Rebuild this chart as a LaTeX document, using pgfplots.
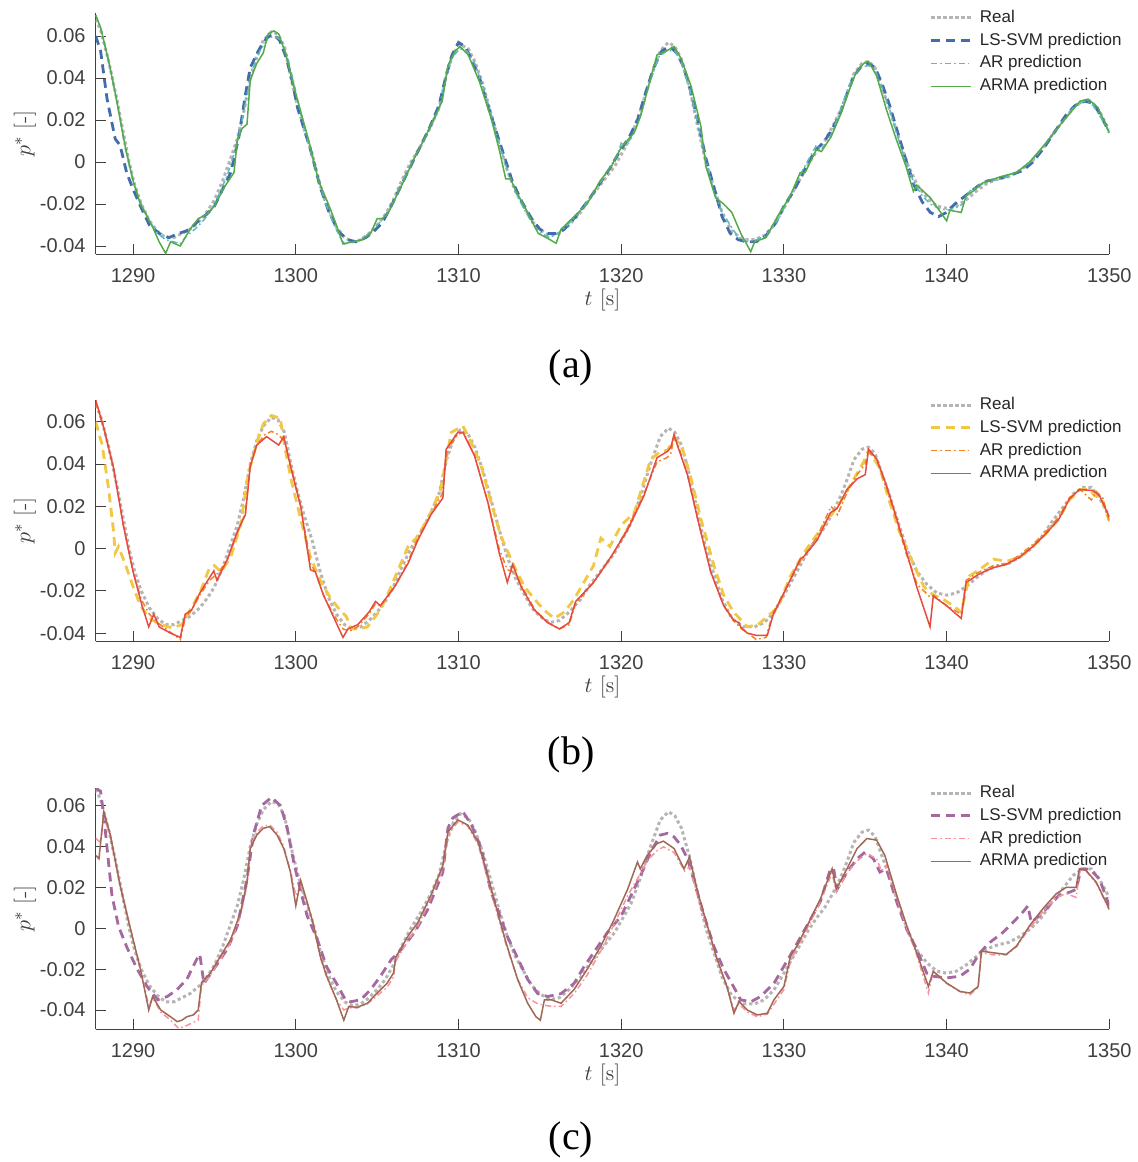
\documentclass[border=0pt]{standalone}
\usepackage{fontspec}
\usepackage{pgfplots}
\usepackage{pgfplotstable}
\pgfplotsset{compat=1.18}
\newfontfamily\arial{Liberation Sans}
\newfontfamily\timesfont{Liberation Serif}

\definecolor{axgray}{RGB}{64,64,64}
\definecolor{legtext}{RGB}{38,38,38}
\definecolor{realgray}{RGB}{185,180,180}
\definecolor{svmA}{RGB}{65,110,170}
\definecolor{arA}{RGB}{95,185,195}
\definecolor{armaA}{RGB}{85,170,75}
\definecolor{svmB}{RGB}{240,200,70}
\definecolor{arB}{RGB}{245,130,35}
\definecolor{armaB}{RGB}{230,75,65}
\definecolor{svmC}{RGB}{165,105,160}
\definecolor{arC}{RGB}{250,145,160}
\definecolor{armaC}{RGB}{160,105,85}

% measured signal (same in all three panels)
\pgfplotstableread{
t v
1287.7 0.068
1288.0 0.063
1288.5 0.048
1289.0 0.030
1289.4 0.014
1289.75 0.000
1290.1 -0.011
1290.5 -0.020
1291.0 -0.028
1291.5 -0.033
1292.0 -0.036
1292.5 -0.036
1293.0 -0.034
1293.5 -0.032
1294.1 -0.028
1294.6 -0.023
1295.0 -0.018
1295.5 -0.009
1296.0 0.002
1296.4 0.011
1296.8 0.024
1297.2 0.040
1297.6 0.051
1298.0 0.058
1298.5 0.062
1298.9 0.061
1299.3 0.055
1299.7 0.040
1300.1 0.027
1300.5 0.016
1301.0 0.004
1301.5 -0.011
1302.0 -0.023
1302.5 -0.031
1303.0 -0.036
1303.5 -0.038
1304.0 -0.037
1304.5 -0.034
1305.0 -0.030
1305.5 -0.025
1306.0 -0.018
1306.5 -0.009
1307.0 -0.001
1307.7 0.008
1308.3 0.017
1308.8 0.026
1309.3 0.043
1309.7 0.052
1310.1 0.056
1310.6 0.054
1311.0 0.048
1311.5 0.037
1312.0 0.023
1312.5 0.009
1313.0 -0.004
1313.5 -0.014
1314.0 -0.021
1314.5 -0.028
1315.0 -0.032
1315.6 -0.035
1316.2 -0.034
1316.8 -0.030
1317.5 -0.024
1318.0 -0.018
1318.5 -0.013
1319.0 -0.008
1319.6 -0.002
1320.1 0.005
1320.6 0.012
1321.2 0.025
1321.8 0.040
1322.4 0.053
1322.9 0.057
1323.3 0.055
1323.7 0.049
1324.2 0.035
1324.7 0.017
1325.2 0.000
1325.7 -0.012
1326.2 -0.024
1326.8 -0.033
1327.5 -0.037
1328.2 -0.037
1328.8 -0.035
1329.4 -0.030
1330.0 -0.022
1330.5 -0.015
1331.0 -0.008
1331.5 -0.001
1332.0 0.005
1332.5 0.010
1333.0 0.017
1333.5 0.025
1333.9 0.033
1334.3 0.042
1334.8 0.047
1335.2 0.048
1335.6 0.045
1336.0 0.036
1336.5 0.025
1337.0 0.013
1337.6 -0.001
1338.2 -0.011
1338.8 -0.017
1339.4 -0.021
1340.0 -0.022
1340.6 -0.021
1341.2 -0.018
1341.8 -0.014
1342.5 -0.010
1343.2 -0.008
1343.8 -0.007
1344.5 -0.004
1345.2 0.000
1345.8 0.005
1346.5 0.013
1347.2 0.020
1347.8 0.026
1348.4 0.029
1348.9 0.029
1349.4 0.024
1349.8 0.018
1350.0 0.015
}\realdata

% ---------- panel (a)
\pgfplotstableread{
t v
1287.7 0.060
1288.0 0.053
1288.4 0.030
1288.9 0.011
1289.2 0.008
1289.6 -0.005
1290.0 -0.013
1290.45 -0.021
1291.0 -0.030
1291.6 -0.034
1292.2 -0.036
1292.8 -0.034
1293.2 -0.033
1293.5 -0.032
1294.0 -0.028
1294.5 -0.025
1295.0 -0.021
1295.5 -0.013
1296.0 -0.005
1296.5 0.012
1296.9 0.032
1297.2 0.045
1297.7 0.053
1298.2 0.059
1298.6 0.061
1299.0 0.058
1299.4 0.050
1299.8 0.038
1300.1 0.026
1300.5 0.016
1300.9 0.006
1301.5 -0.012
1302.0 -0.023
1302.6 -0.033
1303.2 -0.037
1303.7 -0.038
1304.3 -0.036
1304.8 -0.033
1305.3 -0.029
1305.8 -0.022
1306.3 -0.014
1306.8 -0.006
1307.5 0.005
1308.2 0.016
1308.8 0.027
1309.2 0.040
1309.6 0.051
1310.0 0.057
1310.4 0.055
1310.8 0.049
1311.3 0.040
1311.8 0.027
1312.3 0.015
1312.8 0.003
1313.3 -0.009
1313.9 -0.019
1314.5 -0.027
1315.0 -0.032
1315.5 -0.034
1316.0 -0.034
1316.5 -0.032
1317.2 -0.026
1318.0 -0.018
1318.7 -0.010
1319.3 -0.003
1319.9 0.005
1320.5 0.012
1321.0 0.020
1321.5 0.033
1322.0 0.045
1322.5 0.053
1323.0 0.055
1323.4 0.052
1323.8 0.046
1324.2 0.036
1324.7 0.020
1325.2 0.002
1325.7 -0.012
1326.2 -0.026
1326.7 -0.034
1327.2 -0.037
1327.7 -0.038
1328.3 -0.038
1328.9 -0.035
1329.5 -0.029
1330.0 -0.021
1330.5 -0.015
1331.0 -0.008
1331.5 0.000
1332.0 0.006
1332.5 0.010
1333.0 0.016
1333.5 0.024
1333.9 0.033
1334.3 0.041
1334.8 0.046
1335.2 0.047
1335.6 0.045
1336.0 0.038
1336.5 0.027
1337.0 0.014
1337.5 0.001
1338.0 -0.011
1338.5 -0.019
1339.0 -0.024
1339.5 -0.026
1340.0 -0.024
1340.5 -0.020
1341.0 -0.017
1341.5 -0.014
1342.0 -0.011
1342.5 -0.009
1343.2 -0.008
1344.0 -0.006
1344.7 -0.004
1345.3 0.000
1346.0 0.007
1346.7 0.015
1347.3 0.022
1347.9 0.027
1348.5 0.029
1349.0 0.028
1349.5 0.022
1350.0 0.014
}\svmAdata

\pgfplotstableread{
t v
1287.7 0.070
1288.0 0.064
1288.5 0.048
1289.0 0.029
1289.5 0.007
1290.0 -0.009
1290.5 -0.020
1291.0 -0.028
1291.5 -0.034
1292.0 -0.037
1292.5 -0.038
1292.9 -0.039
1293.3 -0.035
1293.8 -0.032
1294.3 -0.028
1294.8 -0.023
1295.3 -0.015
1295.8 -0.006
1296.2 0.004
1296.6 0.016
1297.0 0.032
1297.4 0.045
1297.8 0.053
1298.3 0.059
1298.7 0.060
1299.1 0.058
1299.5 0.050
1299.9 0.037
1300.3 0.023
1300.8 0.008
1301.3 -0.006
1301.8 -0.019
1302.3 -0.029
1302.8 -0.037
1303.0 -0.039
1303.5 -0.038
1304.0 -0.037
1304.5 -0.034
1305.0 -0.030
1305.5 -0.026
1306.0 -0.019
1306.5 -0.010
1307.0 -0.002
1307.7 0.008
1308.3 0.017
1308.8 0.025
1309.2 0.040
1309.6 0.050
1310.1 0.054
1310.5 0.053
1311.0 0.047
1311.5 0.036
1312.0 0.023
1312.5 0.009
1313.0 -0.004
1313.5 -0.014
1314.0 -0.022
1314.6 -0.030
1315.1 -0.034
1315.6 -0.036
1316.1 -0.034
1316.7 -0.030
1317.3 -0.025
1318.0 -0.018
1318.6 -0.011
1319.2 -0.004
1319.8 0.004
1320.0 0.009
1320.3 0.008
1320.8 0.014
1321.3 0.025
1321.8 0.039
1322.3 0.050
1322.8 0.053
1323.3 0.053
1323.7 0.047
1324.2 0.035
1324.7 0.019
1325.2 0.001
1325.7 -0.014
1326.2 -0.024
1326.7 -0.030
1327.2 -0.036
1327.7 -0.038
1328.3 -0.037
1328.9 -0.035
1329.5 -0.029
1330.0 -0.022
1330.5 -0.014
1331.0 -0.006
1331.5 0.001
1332.0 0.008
1332.3 0.006
1332.8 0.011
1333.3 0.021
1333.8 0.032
1334.2 0.040
1334.7 0.045
1335.2 0.046
1335.6 0.044
1336.0 0.036
1336.5 0.025
1337.0 0.012
1337.5 0.000
1338.0 -0.010
1338.5 -0.016
1339.0 -0.020
1339.5 -0.022
1340.0 -0.023
1340.5 -0.022
1341.0 -0.020
1341.4 -0.014
1342.0 -0.011
1342.7 -0.009
1343.4 -0.008
1344.0 -0.006
1344.7 -0.003
1345.3 0.001
1346.0 0.008
1346.7 0.015
1347.3 0.021
1347.9 0.027
1348.5 0.029
1349.0 0.027
1349.5 0.021
1350.0 0.014
}\arAdata

\pgfplotstableread{
t v
1287.7 0.070
1288.0 0.064
1288.5 0.048
1289.0 0.029
1289.5 0.008
1290.0 -0.009
1290.45 -0.020
1290.8 -0.025
1291.2 -0.031
1291.6 -0.038
1292.0 -0.0435
1292.3 -0.038
1292.9 -0.040
1293.5 -0.032
1294.0 -0.027
1294.5 -0.025
1295.0 -0.021
1295.6 -0.012
1296.2 -0.005
1296.4 0.010
1296.7 0.016
1297.0 0.018
1297.2 0.039
1297.6 0.047
1298.0 0.052
1298.3 0.061
1298.65 0.0625
1298.95 0.061
1299.4 0.051
1299.8 0.038
1300.2 0.027
1300.8 0.010
1301.4 -0.009
1302.0 -0.020
1302.4 -0.028
1302.9 -0.039
1303.5 -0.038
1304.1 -0.037
1304.6 -0.034
1305.0 -0.027
1305.3 -0.027
1305.7 -0.024
1306.2 -0.016
1306.7 -0.008
1307.3 0.002
1307.9 0.011
1308.5 0.021
1309.0 0.029
1309.35 0.046
1309.8 0.053
1310.1 0.055
1310.6 0.051
1311.3 0.038
1312.0 0.021
1312.5 0.006
1312.9 -0.008
1313.2 -0.008
1313.6 -0.015
1314.05 -0.021
1314.5 -0.028
1314.9 -0.034
1315.4 -0.036
1316.0 -0.0387
1316.3 -0.032
1317.1 -0.026
1317.9 -0.020
1318.7 -0.009
1319.4 -0.002
1320.0 0.007
1320.8 0.014
1321.2 0.022
1321.6 0.034
1322.2 0.051
1322.8 0.053
1323.25 0.055
1323.7 0.049
1324.3 0.036
1324.9 0.017
1325.2 -0.002
1325.8 -0.017
1326.3 -0.020
1326.8 -0.024
1327.35 -0.034
1327.96 -0.0427
1328.2 -0.038
1328.9 -0.036
1329.6 -0.026
1330.4 -0.016
1331.0 -0.005
1331.3 -0.005
1332.0 0.006
1332.3 0.005
1332.9 0.012
1333.5 0.023
1334.1 0.036
1334.4 0.042
1334.9 0.047
1335.2 0.048
1335.7 0.041
1336.3 0.025
1336.9 0.011
1337.5 -0.002
1337.96 -0.014
1338.16 -0.011
1339.0 -0.017
1340.0 -0.028
1340.2 -0.023
1340.9 -0.024
1341.2 -0.016
1341.6 -0.014
1342.2 -0.010
1343.3 -0.007
1344.3 -0.005
1345.1 0.000
1346.1 0.009
1346.9 0.017
1347.55 0.023
1348.2 0.029
1348.7 0.030
1349.3 0.026
1350.0 0.014
}\armaAdata

% ---------- panel (b)
\pgfplotstableread{
t v
1287.7 0.060
1288.1 0.049
1288.5 0.028
1288.8 0.008
1288.9 -0.002
1289.1 0.001
1289.5 -0.007
1290.0 -0.018
1290.45 -0.027
1291.0 -0.033
1291.7 -0.036
1292.4 -0.0375
1293.0 -0.036
1293.5 -0.029
1294.1 -0.021
1294.7 -0.009
1295.0 -0.008
1295.4 -0.011
1296.0 -0.004
1296.6 0.011
1297.1 0.036
1297.6 0.050
1298.0 0.059
1298.5 0.063
1299.05 0.0616
1299.3 0.049
1299.7 0.033
1300.3 0.014
1300.9 -0.004
1301.5 -0.015
1302.1 -0.023
1302.7 -0.029
1303.1 -0.032
1303.4 -0.038
1303.9 -0.038
1304.4 -0.037
1305.2 -0.029
1305.8 -0.019
1306.4 -0.008
1306.9 0.001
1307.4 0.005
1307.8 0.010
1308.3 0.017
1308.9 0.028
1309.55 0.055
1310.27 0.058
1310.8 0.050
1311.4 0.039
1312.0 0.022
1312.6 0.006
1313.4 -0.008
1314.05 -0.018
1314.9 -0.026
1315.4 -0.030
1315.9 -0.033
1316.5 -0.030
1317.1 -0.024
1317.7 -0.016
1318.3 -0.008
1318.75 0.005
1319.3 0.001
1320.0 0.011
1320.8 0.017
1321.2 0.027
1321.8 0.042
1322.4 0.046
1322.84 0.0465
1323.25 0.052
1323.7 0.049
1324.3 0.033
1324.9 0.014
1325.7 -0.008
1326.3 -0.022
1326.9 -0.030
1327.4 -0.034
1327.75 -0.037
1328.4 -0.036
1329.0 -0.032
1329.6 -0.028
1330.4 -0.013
1331.4 0.000
1332.45 0.011
1333.47 0.022
1334.3 0.033
1334.9 0.041
1335.2 0.0465
1335.9 0.038
1336.5 0.022
1337.1 0.008
1338.0 -0.008
1338.6 -0.018
1339.2 -0.022
1339.8 -0.024
1340.4 -0.027
1340.9 -0.030
1341.4 -0.013
1342.0 -0.010
1342.9 -0.005
1343.7 -0.006
1344.5 -0.004
1345.3 0.001
1346.1 0.007
1346.9 0.014
1347.55 0.023
1348.2 0.028
1348.8 0.028
1349.1 0.025
1349.5 0.024
1350.0 0.013
}\svmBdata

\pgfplotstableread{
t v
1287.7 0.069
1288.2 0.057
1288.8 0.038
1289.4 0.011
1290.0 -0.011
1290.5 -0.024
1291.0 -0.031
1291.5 -0.035
1292.2 -0.039
1292.9 -0.043
1293.2 -0.033
1293.6 -0.029
1294.1 -0.022
1294.7 -0.015
1295.3 -0.011
1295.8 -0.005
1296.4 0.007
1296.9 0.017
1297.2 0.039
1297.6 0.049
1298.1 0.054
1298.5 0.0555
1298.9 0.054
1299.3 0.051
1299.7 0.039
1300.3 0.020
1300.9 -0.007
1301.2 -0.011
1301.7 -0.022
1302.3 -0.031
1302.9 -0.038
1303.3 -0.039
1303.8 -0.037
1304.5 -0.031
1304.9 -0.026
1305.2 -0.027
1306.1 -0.018
1306.9 -0.006
1307.5 0.005
1308.3 0.016
1309.0 0.026
1309.3 0.046
1309.9 0.054
1310.3 0.055
1311.0 0.044
1311.8 0.022
1312.5 0.000
1313.0 -0.010
1313.4 -0.011
1313.9 -0.018
1314.7 -0.029
1315.5 -0.035
1316.2 -0.038
1316.8 -0.036
1317.2 -0.026
1318.3 -0.016
1319.4 -0.004
1320.4 0.010
1321.4 0.026
1322.2 0.041
1322.8 0.043
1323.05 0.045
1323.25 0.053
1323.5 0.049
1324.1 0.034
1324.7 0.014
1325.5 -0.011
1326.3 -0.027
1326.9 -0.034
1327.4 -0.038
1327.8 -0.040
1328.3 -0.043
1328.9 -0.042
1329.3 -0.031
1330.0 -0.021
1331.0 -0.006
1332.0 0.005
1332.9 0.020
1333.3 0.016
1333.9 0.027
1334.5 0.035
1335.0 0.040
1335.2 0.046
1335.7 0.042
1336.3 0.029
1336.9 0.014
1337.5 -0.002
1338.2 -0.017
1339.0 -0.023
1339.2 -0.022
1340.0 -0.027
1340.9 -0.031
1341.2 -0.015
1342.0 -0.011
1342.9 -0.008
1343.7 -0.007
1344.5 -0.003
1345.3 0.002
1346.1 0.008
1346.9 0.015
1347.55 0.024
1348.2 0.028
1348.9 0.023
1349.2 0.027
1349.6 0.024
1350.0 0.013
}\arBdata

\pgfplotstableread{
t v
1287.7 0.0703
1288.2 0.057
1288.8 0.038
1289.4 0.011
1290.0 -0.011
1290.55 -0.027
1290.96 -0.037
1291.27 -0.031
1291.6 -0.037
1292.3 -0.040
1292.9 -0.042
1293.2 -0.031
1293.6 -0.029
1294.1 -0.021
1294.96 -0.0105
1295.15 -0.015
1295.8 -0.005
1296.4 0.008
1296.9 0.016
1297.2 0.039
1297.6 0.049
1298.2 0.053
1298.95 0.049
1299.26 0.053
1299.67 0.039
1300.3 0.020
1300.9 -0.010
1301.2 -0.011
1301.7 -0.022
1302.3 -0.032
1302.9 -0.042
1303.2 -0.038
1303.8 -0.036
1304.5 -0.030
1304.9 -0.025
1305.2 -0.027
1306.07 -0.018
1306.9 -0.007
1307.5 0.004
1308.3 0.016
1309.04 0.024
1309.24 0.047
1309.96 0.055
1310.27 0.055
1310.98 0.044
1311.8 0.022
1312.5 -0.002
1313.0 -0.016
1313.33 -0.0075
1313.85 -0.018
1314.66 -0.029
1315.48 -0.035
1316.2 -0.038
1316.8 -0.035
1317.2 -0.025
1318.3 -0.016
1319.4 -0.0035
1320.4 0.009
1321.4 0.025
1322.2 0.043
1322.84 0.046
1323.05 0.048
1323.25 0.054
1323.45 0.049
1324.07 0.035
1324.7 0.014
1325.5 -0.011
1326.3 -0.027
1326.93 -0.034
1327.24 -0.035
1327.34 -0.037
1327.75 -0.040
1328.3 -0.041
1328.98 -0.041
1329.35 -0.031
1330.0 -0.021
1331.0 -0.005
1331.2 -0.004
1332.04 0.004
1332.86 0.017
1333.27 0.019
1333.88 0.028
1334.5 0.033
1335.0 0.035
1335.2 0.047
1335.7 0.0425
1336.3 0.030
1336.94 0.014
1337.55 -0.002
1338.16 -0.018
1338.98 -0.037
1339.18 -0.0225
1340.0 -0.027
1340.9 -0.033
1341.2 -0.016
1342.0 -0.012
1342.86 -0.009
1343.67 -0.0075
1344.5 -0.004
1345.3 0.001
1346.1 0.007
1346.9 0.014
1347.55 0.0235
1348.16 0.028
1348.98 0.0275
1349.4 0.025
1350.0 0.015
}\armaBdata

% ---------- panel (c)
\pgfplotstableread{
t v
1287.7 0.0686
1288.0 0.067
1288.2 0.055
1288.4 0.039
1288.7 0.016
1289.1 0.001
1289.6 -0.009
1290.25 -0.020
1290.86 -0.0285
1291.5 -0.035
1292.1 -0.0334
1292.7 -0.030
1293.3 -0.025
1293.9 -0.0153
1294.1 -0.0128
1294.35 -0.027
1294.96 -0.020
1295.8 -0.010
1296.4 0.001
1297.0 0.024
1297.4 0.046
1297.9 0.060
1298.5 0.064
1299.06 0.060
1299.47 0.049
1299.88 0.032
1300.3 0.018
1300.7 0.006
1301.3 -0.005
1301.9 -0.019
1302.5 -0.027
1303.05 -0.035
1303.36 -0.036
1303.98 -0.035
1304.6 -0.030
1305.2 -0.0235
1305.87 -0.0153
1306.48 -0.0104
1307.3 -0.002
1308.1 0.009
1309.04 0.0275
1309.35 0.049
1309.65 0.054
1310.27 0.057
1310.8 0.0505
1311.4 0.039
1312.0 0.0176
1312.4 0.0094
1313.0 -0.004
1313.6 -0.014
1314.25 -0.025
1314.87 -0.032
1315.48 -0.0334
1316.3 -0.032
1317.1 -0.027
1317.7 -0.019
1318.3 -0.012
1319.16 -0.002
1320.0 0.006
1320.6 0.016
1321.2 0.026
1321.8 0.037
1322.4 0.0456
1322.84 0.0464
1323.25 0.0447
1323.66 0.0406
1324.07 0.034
1324.5 0.0225
1325.1 0.006
1325.7 -0.009
1326.3 -0.020
1326.9 -0.0285
1327.34 -0.035
1327.96 -0.036
1328.57 -0.0334
1329.4 -0.0268
1330.0 -0.0186
1330.6 -0.0104
1331.4 0.001
1332.24 0.013
1332.86 0.029
1333.06 0.029
1333.27 0.019
1333.88 0.0275
1334.5 0.034
1335.0 0.0373
1335.5 0.034
1335.9 0.0275
1336.3 0.029
1336.94 0.0127
1337.55 -0.0005
1338.16 -0.0104
1338.78 -0.022
1339.18 -0.0235
1340.0 -0.0243
1340.82 -0.0235
1341.43 -0.020
1342.04 -0.012
1342.65 -0.007
1343.47 -0.002
1344.1 0.003
1344.7 0.008
1345.0 0.011
1345.2 0.003
1345.7 0.006
1346.3 0.011
1346.9 0.016
1347.55 0.0176
1347.96 0.019
1348.27 0.029
1348.8 0.029
1349.4 0.024
1350.0 0.011
}\svmCdata

\pgfplotstableread{
t v
1287.7 0.044
1288.0 0.042
1288.2 0.055
1288.6 0.045
1289.2 0.021
1289.84 0.000
1290.45 -0.020
1290.96 -0.038
1291.2 -0.034
1291.7 -0.041
1292.3 -0.045
1292.8 -0.049
1293.2 -0.048
1293.7 -0.046
1294.0 -0.045
1294.2 -0.028
1294.75 -0.023
1295.37 -0.015
1296.0 -0.007
1296.6 0.006
1297.0 0.021
1297.2 0.040
1297.6 0.047
1298.0 0.050
1298.4 0.0505
1298.85 0.047
1299.26 0.040
1299.67 0.028
1300.0 0.016
1300.3 0.021
1300.7 0.012
1301.1 0.001
1301.5 -0.014
1301.9 -0.024
1302.5 -0.035
1302.95 -0.040
1303.25 -0.039
1303.77 -0.039
1304.4 -0.037
1305.0 -0.033
1305.6 -0.029
1306.0 -0.024
1306.15 -0.016
1306.9 -0.006
1307.5 0.001
1308.3 0.015
1309.04 0.029
1309.35 0.046
1309.96 0.052
1310.57 0.050
1311.2 0.041
1311.8 0.024
1312.2 0.012
1312.92 -0.008
1313.64 -0.025
1314.25 -0.034
1314.87 -0.037
1315.5 -0.038
1316.3 -0.0383
1317.1 -0.032
1317.9 -0.023
1318.75 -0.011
1319.57 0.002
1320.4 0.016
1321.2 0.027
1321.6 0.033
1322.2 0.038
1322.6 0.0398
1323.25 0.037
1323.9 0.028
1324.2 0.030
1324.7 0.016
1325.3 0.000
1325.9 -0.016
1326.5 -0.029
1326.93 -0.040
1327.24 -0.037
1327.75 -0.041
1328.36 -0.0433
1328.98 -0.042
1329.4 -0.037
1330.0 -0.030
1330.4 -0.016
1330.8 -0.010
1331.43 0.000
1332.24 0.013
1332.96 0.027
1333.22 0.0176
1333.88 0.027
1334.5 0.033
1335.1 0.0365
1335.7 0.034
1336.0 0.028
1336.3 0.031
1336.94 0.015
1337.55 0.000
1338.16 -0.013
1338.88 -0.0317
1339.18 -0.021
1340.0 -0.027
1340.82 -0.031
1341.43 -0.0326
1341.94 -0.029
1342.14 -0.012
1342.86 -0.013
1343.67 -0.013
1344.3 -0.009
1345.1 0.000
1345.9 0.008
1346.73 0.015
1347.35 0.017
1347.96 0.0151
1348.2 0.029
1348.57 0.028
1349.2 0.022
1350.0 0.009
}\arCdata

\pgfplotstableread{
t v
1287.7 0.0357
1287.9 0.034
1288.2 0.057
1288.6 0.0456
1289.2 0.021
1289.84 -0.0005
1290.45 -0.020
1290.96 -0.040
1291.2 -0.0334
1291.7 -0.040
1292.3 -0.0433
1292.7 -0.0457
1293.0 -0.045
1293.3 -0.0433
1293.7 -0.0424
1294.0 -0.040
1294.2 -0.0268
1294.75 -0.0219
1295.37 -0.0137
1296.0 -0.0054
1296.6 0.0077
1297.0 0.0225
1297.2 0.039
1297.6 0.0456
1298.0 0.0489
1298.4 0.0497
1298.85 0.0456
1299.26 0.039
1299.67 0.0275
1300.0 0.011
1300.3 0.0234
1300.7 0.0127
1301.1 0.0012
1301.5 -0.0137
1301.9 -0.0235
1302.5 -0.035
1302.95 -0.045
1303.25 -0.0383
1303.77 -0.0387
1304.4 -0.0367
1305.0 -0.0317
1305.6 -0.027
1306.0 -0.022
1306.15 -0.014
1306.9 -0.0038
1307.5 0.0028
1308.3 0.016
1309.04 0.0308
1309.35 0.0472
1309.96 0.053
1310.57 0.0505
1311.2 0.0423
1311.8 0.0258
1312.2 0.0135
1312.92 -0.007
1313.64 -0.0252
1314.25 -0.0367
1314.76 -0.0433
1315.03 -0.045
1315.28 -0.035
1315.7 -0.035
1316.3 -0.0367
1317.1 -0.030
1317.9 -0.0202
1318.75 -0.0087
1319.57 0.0044
1320.4 0.0192
1321.0 0.0324
1321.17 0.029
1321.6 0.0357
1322.2 0.0414
1322.6 0.0426
1323.25 0.039
1323.86 0.029
1324.2 0.0349
1324.7 0.0176
1325.3 0.0012
1325.9 -0.0153
1326.5 -0.0285
1326.93 -0.0416
1327.24 -0.0358
1327.75 -0.040
1328.36 -0.0424
1328.98 -0.0416
1329.39 -0.035
1330.0 -0.0285
1330.4 -0.0137
1330.8 -0.0087
1331.43 0.0012
1332.24 0.0143
1332.96 0.0291
1333.22 0.0192
1333.88 0.0291
1334.5 0.039
1335.1 0.0439
1335.7 0.0431
1336.2 0.0357
1336.94 0.016
1337.55 0.0012
1338.16 -0.012
1338.88 -0.0285
1339.18 -0.0211
1340.0 -0.0268
1340.82 -0.0309
1341.43 -0.0317
1341.94 -0.0285
1342.14 -0.0112
1342.86 -0.012
1343.67 -0.0128
1344.3 -0.0087
1345.1 0.0012
1345.9 0.0094
1346.73 0.0168
1347.35 0.020
1347.96 0.020
1348.16 0.0291
1348.57 0.0283
1349.2 0.0225
1350.0 0.0094
}\armaCdata

\pgfplotsset{
  panel/.style={
    width=506.8pt, height=120.5pt, scale only axis,
    xmin=1287.7, xmax=1350,
    axis x line*=bottom, axis y line*=left,
    axis line style={axgray, line width=0.5pt},
    every tick/.style={axgray, line width=0.5pt},
    tick align=inside, major tick length=5pt,
    scaled x ticks=false, scaled y ticks=false,
    xtick={1290,1300,1310,1320,1330,1340,1350},
    xticklabels={1290,1300,1310,1320,1330,1340,1350},
    ytick={-0.04,-0.02,0,0.02,0.04,0.06},
    yticklabels={-0.04,-0.02,0,0.02,0.04,0.06},
    ticklabel style={font=\arial\fontsize{10}{12}\selectfont, text=axgray},
    xticklabel style={anchor=center, yshift=-11pt},
    yticklabel style={anchor=east, inner sep=0pt, xshift=-4.9pt},
    xlabel={$t$ [s]}, ylabel={$p^*$ [-]},
    label style={font=\fontsize{11}{13}\selectfont, text=axgray},
    xlabel style={at={(axis description cs:0.5,-0.191)}, anchor=center},
    ylabel style={at={(axis description cs:-0.0698,0.5)}, anchor=center},
    legend style={at={(axis description cs:1.0125,1.015)}, anchor=north east,
      draw=none, fill=none, inner sep=0pt, row sep=3.2pt, column sep=3.5pt,
      font=\arial\fontsize{8.5}{10}\selectfont,
      nodes={inner sep=0pt, text height=6.3pt, text depth=1.9pt}},
    legend cell align=left,
    legend image code/.code={\draw[#1] (0pt,0pt) -- (20pt,0pt);},
  },
  realst/.style={realgray, line width=1.5pt, dash pattern=on 1.6pt off 1.4pt},
  svmst/.style={line width=1.4pt, dash pattern=on 4.5pt off 2.8pt},
  arst/.style={line width=0.75pt, dash pattern=on 3pt off 1.5pt on 0.8pt off 1.5pt},
  armast/.style={line width=0.75pt},
}

\begin{document}
\begin{tikzpicture}
\useasboundingbox (0pt,0pt) rectangle (568.5pt,-581pt);

\begin{axis}[panel, at={(47.85pt,-127pt)}, anchor=south west,
  ymin=-0.0438, ymax=0.0710]
\addplot[realst] table[x=t, y=v] {\realdata};
\addlegendentry{\textcolor{legtext}{Real}}
\addplot[svmst, svmA] table[x=t, y=v] {\svmAdata};
\addlegendentry{\textcolor{legtext}{LS-SVM prediction}}
\addplot[arst, arA] table[x=t, y=v] {\arAdata};
\addlegendentry{\textcolor{legtext}{AR prediction}}
\addplot[armast, armaA] table[x=t, y=v] {\armaAdata};
\addlegendentry{\textcolor{legtext}{ARMA prediction}}
\end{axis}

\begin{axis}[panel, at={(47.85pt,-320.5pt)}, anchor=south west,
  ymin=-0.0437, ymax=0.0703]
\addplot[realst] table[x=t, y=v] {\realdata};
\addlegendentry{\textcolor{legtext}{Real}}
\addplot[svmst, svmB] table[x=t, y=v] {\svmBdata};
\addlegendentry{\textcolor{legtext}{LS-SVM prediction}}
\addplot[arst, arB] table[x=t, y=v] {\arBdata};
\addlegendentry{\textcolor{legtext}{AR prediction}}
\addplot[armast, armaB] table[x=t, y=v] {\armaBdata};
\addlegendentry{\textcolor{legtext}{ARMA prediction}}
\end{axis}

\begin{axis}[panel, at={(47.85pt,-514.5pt)}, anchor=south west,
  ymin=-0.0493, ymax=0.0686]
\addplot[realst] table[x=t, y=v] {\realdata};
\addlegendentry{\textcolor{legtext}{Real}}
\addplot[svmst, svmC] table[x=t, y=v] {\svmCdata};
\addlegendentry{\textcolor{legtext}{LS-SVM prediction}}
\addplot[arst, arC] table[x=t, y=v] {\arCdata};
\addlegendentry{\textcolor{legtext}{AR prediction}}
\addplot[armast, armaC] table[x=t, y=v] {\armaCdata};
\addlegendentry{\textcolor{legtext}{ARMA prediction}}
\end{axis}

\node[font=\timesfont\fontsize{20}{24}\selectfont] at (285.5pt,-184pt) {(a)};
\node[font=\timesfont\fontsize{20}{24}\selectfont] at (285.5pt,-377.5pt) {(b)};
\node[font=\timesfont\fontsize{20}{24}\selectfont] at (285.5pt,-570pt) {(c)};
\end{tikzpicture}
\end{document}
